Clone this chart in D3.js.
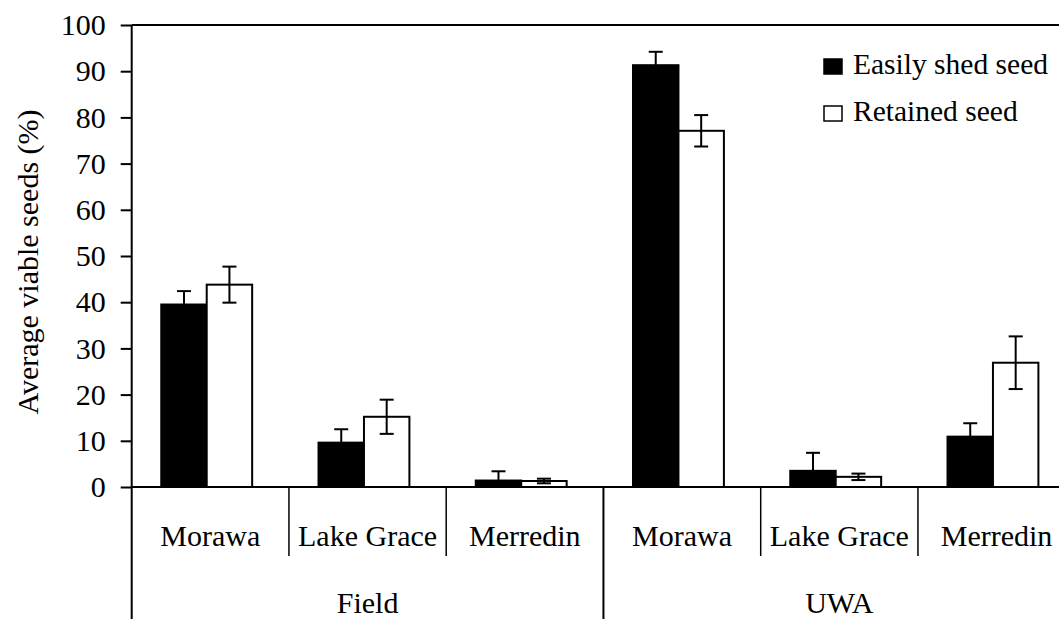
<!DOCTYPE html>
<html>
<head>
<meta charset="utf-8">
<script src="https://cdn.jsdelivr.net/npm/d3@7"></script>
<style>
  html, body { margin: 0; padding: 0; background: #fff; }
  svg { display: block; }
  svg text { font-family: "Liberation Serif", Tinos, "Times New Roman", Times, "DejaVu Serif", serif !important; fill: #000; }
</style>
</head>
<body>
<svg id="chart" width="1059" height="619" font-family="Liberation Serif, serif"></svg>
<script>
// ---- data ----
const groups = ["Field", "UWA"];
const sites = ["Morawa", "Lake Grace", "Merredin", "Morawa", "Lake Grace", "Merredin"];
const siteGroup = ["Field", "Field", "Field", "UWA", "UWA", "UWA"];
const seriesNames = ["Easily shed seed", "Retained seed"];
const shedValues = [39.5, 9.6, 1.4, 91.3, 3.5, 10.9];
const shedErrors = [2.9, 2.9, 2.0, 2.9, 3.9, 2.9];
const retainedValues = [43.8, 15.2, 1.3, 77.1, 2.2, 26.9];
const retainedErrors = [3.9, 3.7, 0.5, 3.4, 0.7, 5.7];
const yTicks = [0, 10, 20, 30, 40, 50, 60, 70, 80, 90, 100];
const yLabel = "Average viable seeds (%)";

(function () {
// ---- layout ----
const svg = d3.select("#chart");
const mLeft = 131.7, mRight = 1075.2, mTop = 25, mBottom = 487;
const fontSize = 30;
const legendFont = 29.5;
const FONT = "'Liberation Serif', Tinos, 'Times New Roman', Times, serif";

const idx = d3.range(sites.length);
const x0 = d3.scaleBand().domain(idx).range([mLeft, mRight]).paddingInner(0).paddingOuter(0);
const bw = x0.bandwidth();
const x1 = d3.scaleBand().domain(seriesNames).range([bw * 0.188, bw * 0.766]).padding(0);
const y = d3.scaleLinear().domain([0, 100]).range([mBottom, mTop]);

const fills = {"Easily shed seed": "#000", "Retained seed": "#fff"};
const rows = idx.map(i => ({
  i,
  bars: [
    {s: seriesNames[0], v: shedValues[i], e: shedErrors[i]},
    {s: seriesNames[1], v: retainedValues[i], e: retainedErrors[i]}
  ]
}));

// top border of plot area
svg.append("line").attr("x1", mLeft).attr("x2", mRight).attr("y1", y(100)).attr("y2", y(100))
  .attr("stroke", "#000").attr("stroke-width", 2);
svg.append("line").attr("x1", mRight).attr("x2", mRight).attr("y1", y(100)).attr("y2", y(0))
  .attr("stroke", "#000").attr("stroke-width", 2);

// bars
const cat = svg.append("g").selectAll("g").data(rows).join("g")
  .attr("transform", d => `translate(${x0(d.i)},0)`);
cat.selectAll("rect").data(d => d.bars).join("rect")
  .attr("x", d => x1(d.s))
  .attr("width", x1.bandwidth())
  .attr("y", d => y(d.v))
  .attr("height", d => y(0) - y(d.v))
  .attr("fill", d => fills[d.s])
  .attr("stroke", "#000").attr("stroke-width", 2);

// error bars
const capW = 14;
const eb = cat.selectAll("g.err").data(d => d.bars).join("g").attr("class", "err")
  .attr("transform", d => `translate(${x1(d.s) + x1.bandwidth() / 2},0)`);
eb.append("line").attr("x1", 0).attr("x2", 0)
  .attr("y1", d => y(d.v + d.e)).attr("y2", d => y(Math.max(0, d.v - d.e)))
  .attr("stroke", "#000").attr("stroke-width", 2);
eb.append("line").attr("x1", -capW / 2).attr("x2", capW / 2)
  .attr("y1", d => y(d.v + d.e)).attr("y2", d => y(d.v + d.e))
  .attr("stroke", "#000").attr("stroke-width", 2);
eb.append("line").attr("x1", -capW / 2).attr("x2", capW / 2)
  .attr("y1", d => y(Math.max(0, d.v - d.e))).attr("y2", d => y(Math.max(0, d.v - d.e)))
  .attr("stroke", "#000").attr("stroke-width", 2);

// y axis
const yAxis = d3.axisLeft(y).tickValues(yTicks).tickSize(11).tickSizeOuter(0).tickPadding(15);
const gy = svg.append("g").attr("transform", `translate(${mLeft},0)`).call(yAxis)
  .attr("font-family", FONT).attr("font-size", fontSize);
gy.select(".domain").remove();
gy.selectAll(".tick line").attr("stroke", "#000").attr("stroke-width", 2);
gy.selectAll(".tick text").attr("font-family", FONT).attr("font-size", fontSize).attr("fill", "#000");

// y axis line extending down through category labels
svg.append("line").attr("x1", mLeft).attr("x2", mLeft).attr("y1", y(100)).attr("y2", 619)
  .attr("stroke", "#000").attr("stroke-width", 2);
// x axis line
svg.append("line").attr("x1", mLeft).attr("x2", mRight).attr("y1", y(0)).attr("y2", y(0))
  .attr("stroke", "#000").attr("stroke-width", 2);

// category separators (small) and group separators (long)
idx.slice(1).forEach(i => {
  const isGroup = siteGroup[i] !== siteGroup[i - 1];
  svg.append("line").attr("x1", x0(i)).attr("x2", x0(i))
    .attr("y1", y(0)).attr("y2", isGroup ? 619 : 556)
    .attr("stroke", "#000").attr("stroke-width", isGroup ? 2 : 1.5);
});
svg.append("line").attr("x1", mRight).attr("x2", mRight).attr("y1", y(0)).attr("y2", 619)
  .attr("stroke", "#000").attr("stroke-width", 2);

// category labels
svg.append("g").selectAll("text").data(idx).join("text")
  .attr("x", i => x0(i) + bw / 2).attr("y", 546)
  .attr("text-anchor", "middle").attr("font-family", FONT).attr("font-size", fontSize)
  .text(i => sites[i]);

// group labels
svg.append("g").selectAll("text").data(groups).join("text")
  .attr("x", g => {
    const ii = idx.filter(i => siteGroup[i] === g);
    return (x0(ii[0]) + x0(ii[ii.length - 1]) + bw) / 2;
  })
  .attr("y", 613).attr("text-anchor", "middle").attr("font-family", FONT).attr("font-size", fontSize)
  .text(g => g);

// y axis title
svg.append("text")
  .attr("transform", `translate(38,262) rotate(-90)`)
  .attr("text-anchor", "middle").attr("font-family", FONT).attr("font-size", fontSize)
  .text(yLabel);

// legend
const legend = svg.append("g").selectAll("g").data(seriesNames).join("g")
  .attr("transform", (d, i) => `translate(824,${59 + i * 47})`);
legend.append("rect").attr("x", 0).attr("y", 0).attr("width", 18).attr("height", 15)
  .attr("fill", d => fills[d]).attr("stroke", "#000").attr("stroke-width", 1.5);
legend.append("text").attr("x", 29).attr("y", 14.5)
  .attr("font-family", FONT).attr("font-size", legendFont).text(d => d);
})();
</script>
</body>
</html>
